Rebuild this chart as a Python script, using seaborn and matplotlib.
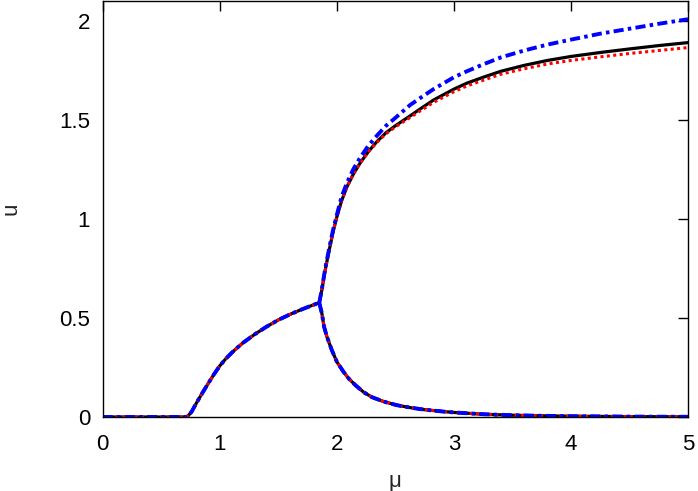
import numpy as np
import pandas as pd
import matplotlib
matplotlib.use("Agg")
import matplotlib.pyplot as plt
import seaborn as sns

# ---- data ----
# shared: zero state + first (rising) branch
mu_rise = [0.0, 0.50, 0.71, 0.73, 0.76, 0.80, 0.85, 0.90, 0.95, 1.00, 1.05, 1.10, 1.15,
           1.20, 1.30, 1.40, 1.50, 1.60, 1.70, 1.80, 1.85]
u_rise = [0.0, 0.0, 0.0, 0.006, 0.027, 0.07, 0.12, 0.168, 0.215, 0.258, 0.293, 0.323, 0.35,
          0.375, 0.418, 0.456, 0.49, 0.518, 0.543, 0.566, 0.577]

# shared: lower (decaying) branch
mu_low = [1.85, 1.872, 1.891, 1.915, 1.957, 2.00, 2.056, 2.10, 2.16, 2.23, 2.30, 2.40, 2.51,
          2.63, 2.75, 2.90, 3.00, 3.25, 3.50, 3.75, 4.00, 4.50, 5.00]
u_low = [0.577, 0.524, 0.456, 0.406, 0.338, 0.279, 0.229, 0.195, 0.16, 0.125, 0.10, 0.078, 0.06,
         0.047, 0.037, 0.028, 0.023, 0.014, 0.009, 0.006, 0.004, 0.002, 0.001]

# upper branch, per series
mu_up = [1.85, 1.872, 1.891, 1.91, 1.943, 1.97, 2.00, 2.04, 2.085, 2.14, 2.20, 2.27, 2.342,
         2.42, 2.50, 2.626, 2.712, 2.826, 3.00, 3.11, 3.25, 3.40, 3.60, 3.80, 4.00, 4.25,
         4.50, 4.75, 5.00]
u_up_black = [0.577, 0.641, 0.709, 0.77, 0.865, 0.94, 1.01, 1.09, 1.16, 1.225, 1.283, 1.34, 1.39,
              1.435, 1.47, 1.52, 1.555, 1.60, 1.655, 1.685, 1.715, 1.745, 1.775, 1.80, 1.82, 1.84,
              1.858, 1.875, 1.89]
u_up_red = [0.577, 0.641, 0.709, 0.77, 0.865, 0.94, 1.01, 1.09, 1.16, 1.225, 1.283, 1.338, 1.386,
            1.43, 1.464, 1.512, 1.545, 1.588, 1.642, 1.671, 1.70, 1.73, 1.758, 1.782, 1.80, 1.818,
            1.835, 1.85, 1.865]
u_up_blue = [0.577, 0.645, 0.715, 0.778, 0.875, 0.95, 1.02, 1.11, 1.18, 1.25, 1.31, 1.37, 1.42,
             1.47, 1.51, 1.575, 1.61, 1.655, 1.715, 1.745, 1.78, 1.815, 1.85, 1.88, 1.905, 1.935,
             1.96, 1.985, 2.008]

series_names = ["black", "red", "blue"]
upper = {"black": u_up_black, "red": u_up_red, "blue": u_up_blue}

x_ticks = [0, 1, 2, 3, 4, 5]
y_ticks = [0, 0.5, 1, 1.5, 2]
y_tick_labels = ["0", "0.5", "1", "1.5", "2"]

rows = []
for s in series_names:
    for m, u in zip(mu_rise, u_rise):
        rows.append((s, "rise", m, u))
    for m, u in zip(mu_low, u_low):
        rows.append((s, "low", m, u))
    for m, u in zip(mu_up, upper[s]):
        rows.append((s, "up", m, u))
df = pd.DataFrame(rows, columns=["series", "branch", "mu", "u"])

sns.set_style("white")
plt.rcParams["font.family"] = ["Liberation Sans", "DejaVu Sans"]

fig = plt.figure(figsize=(6.98, 4.91), dpi=100)
ax = fig.add_axes([102.7 / 698, 1 - 417 / 491, (688 - 102.7) / 698, 416 / 491])

styles = {
    "black": dict(color="black", lw=2.3, dashes=""),
    "red": dict(color="#ff0000", lw=2.2, dashes=(1.0, 1.1)),
    "blue": dict(color="#0000ff", lw=2.8, dashes=(2.6, 1.1, 0.9, 1.1)),
}
for s in series_names:
    st = styles[s]
    sub = df[df.series == s]
    n0 = len(ax.lines)
    sns.lineplot(data=sub, x="mu", y="u", units="branch", estimator=None, sort=False,
                 color=st["color"], linewidth=st["lw"], ax=ax, legend=False)
    for line in ax.lines[n0:]:
        line.set_solid_joinstyle("round")
        if st["dashes"]:
            line.set_dashes(st["dashes"])
            line.set_dash_capstyle("butt")

ax.set_xlim(0, 5)
ax.set_ylim(0, 2.1)
ax.set_xticks(x_ticks)
ax.set_xticklabels([str(t) for t in x_ticks])
ax.set_yticks(y_ticks)
ax.set_yticklabels(y_tick_labels)
ax.tick_params(direction="in", length=7, width=1, top=True, right=True,
               labelsize=16, colors="black")
ax.tick_params(axis="y", pad=9)
ax.tick_params(axis="x", pad=12)
for sp in ax.spines.values():
    sp.set_visible(True)
    sp.set_color("black")
    sp.set_linewidth(1.0)

ax.set_xlabel("μ", fontsize=16, labelpad=12)
ax.set_ylabel("u", fontsize=16)
ax.yaxis.set_label_coords((21 - 102.7) / 585.3, 0.5)

fig.savefig("out.png", dpi=100)
